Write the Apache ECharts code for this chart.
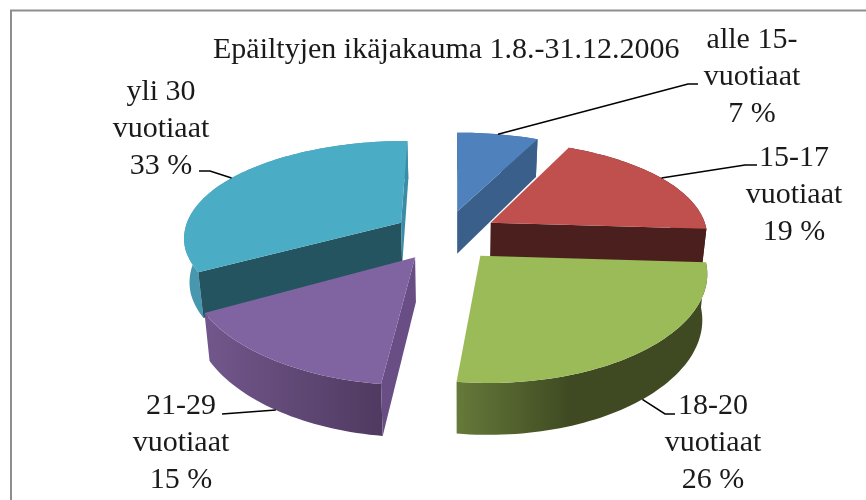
<!DOCTYPE html>
<html><head><meta charset="utf-8">
<style>html,body{margin:0;padding:0;background:#fff}#c{width:866px;height:500px}</style>
<script src="https://cdn.jsdelivr.net/npm/echarts@6/dist/echarts.min.js"></script>
</head><body><div id="c"></div>
<script>
const titleText = 'Epäiltyjen ikäjakauma 1.8.-31.12.2006';
const categories = ['alle 15-\nvuotiaat', '15-17\nvuotiaat', '18-20\nvuotiaat', '21-29\nvuotiaat', 'yli 30\nvuotiaat'];
const values = [7, 19, 26, 15, 33];

// Presentation only
const FONT = '"Liberation Serif", serif';
const INK = '#1a1a1a';
const P = {vx:456, y0:250, H:618, Dy:1321, Dx:1650, R:222, Xc:-10.5, Yc:-32, ex:54, ey:57, h:44.5, taper:0.02, shear:0.022};
const look = [
 {paint:0, top:'#4f81bd', wall:'#3f6796', start:'#3a5f8b', end:'#3a5f8b', anchorZ:0, elbow:[[688,84],[698,84]], label:[752,77]},
 {paint:2, top:'#bf504d', wall:'#4a1f1e', start:'#4a1f1e', end:'#4a1f1e', anchorZ:0, elbow:[[745,165],[757,165]], label:[794,195]},
 {paint:4, top:'#9bbb59', wall:[{offset:0,color:'#667a3a'},{offset:0.45,color:'#3f4a22'},{offset:1,color:'#3f4a22'}], start:'#3f4a22', end:'#3f4a22', anchorZ:1, elbow:[[665,414],[675,414]], label:[713,443]},
 {paint:3, top:'#8064a2', wall:[{offset:0,color:'#72578c'},{offset:1,color:'#4f3a60'}], start:'#684e85', end:'#684e85', anchorZ:1, elbow:[[222,414]], label:[181,443]},
 {paint:1, top:'#4bacc6', wall:'#4797ae', start:'#24545f', end:'#3d8ca5', anchorZ:0, elbow:[[210,171],[199,171]], label:[161,129]}
];

function project(X, Y, Z) {
  const sy = P.Dy / (P.Dy - Y), sx = P.Dx / (P.Dx - Y);
  return [P.vx + X * sx * (1 - P.taper * Z) + P.shear * Math.max(0, Y), P.y0 + P.H * (sy - 1) + Z * P.h * sx];
}
function rimXY(i, deg) {
  const a = deg * Math.PI / 180;
  return [i.ax + P.R * Math.sin(a), i.ay - P.R * Math.cos(a)];
}
const total = values.reduce((a, b) => a + b, 0);
let running = 0;
const rows = values.map((v, i) => { const r = [running, v, i]; running += v; return r; });

function renderItem(params, api) {
  const startPct = api.value(0), val = api.value(1), idx = api.value(2);
  const a0 = startPct / total * 360, a1 = (startPct + val) / total * 360, mid = (a0 + a1) / 2;
  const m = mid * Math.PI / 180;
  const L = look[idx];
  const i = {ax: P.Xc + P.ex * Math.sin(m), ay: P.Yc - P.ey * Math.cos(m)};
  const arc = Z => { const pts = []; const n = Math.max(8, Math.ceil((a1 - a0) / 1.5));
    for (let k = 0; k <= n; k++) { const [X, Y] = rimXY(i, a0 + (a1 - a0) * k / n); pts.push(project(X, Y, Z)); } return pts; };
  const topArc = arc(0), botArc = arc(1);
  const apexT = project(i.ax, i.ay, 0), apexB = project(i.ax, i.ay, 1);
  const base = L.paint * 10;
  const fillOf = f => Array.isArray(f) ? new echarts.graphic.LinearGradient(0, 0, 1, 0, f) : f;
  const poly = (points, fill, z) => ({type:'polygon', z2: base + z, shape:{points}, style:{fill: fillOf(fill), stroke:'none'}, silent:true});
  const turn = (a, b, c) => (b[0]-a[0])*(c[1]-b[1]) - (b[1]-a[1])*(c[0]-b[0]);
  const t0 = topArc[0], b0 = botArc[0], t1 = topArc[topArc.length-1], b1 = botArc[botArc.length-1];
  const kids = [poly(topArc.concat(botArc.slice().reverse()), L.wall, 1)];
  if (turn(apexT, t0, b0) < 0) kids.push(poly([apexT, t0, b0, apexB], L.start, 2));
  if (turn(apexT, t1, b1) > 0) kids.push(poly([apexT, t1, b1, apexB], L.end, 3));
  kids.push(poly([apexT].concat(topArc), L.top, 4));
  const [mx, my] = rimXY(i, mid);
  const anchor = project(mx, my, L.anchorZ);
  kids.push({type:'polyline', z2: 100, shape:{points:[anchor].concat(L.elbow)}, style:{fill:'none', stroke:'#000', lineWidth:1.5}, silent:true});
  kids.push({type:'text', z2: 101, silent:true, style:{
    text: categories[idx] + '\n' + values[idx] + ' %', x:L.label[0], y:L.label[1], fill:INK,
    font:'30px ' + FONT, lineHeight:37, align:'center', verticalAlign:'middle'}});
  return {type:'group', children:kids};
}

const chart = echarts.init(document.getElementById('c'), null, {renderer:'canvas'});
chart.setOption({
  animation:false,
  backgroundColor:'#ffffff',
  title:{text:titleText, left:213, top:35, padding:0, textStyle:{fontFamily:FONT, fontSize:30, fontWeight:'normal', color:INK}},
  graphic:[{type:'polyline', silent:true, z:-1, shape:{points:[[11,500],[11,10.5],[866,10.5]]}, style:{fill:'none', stroke:'#8e8e8e', lineWidth:2}}],
  series:[{type:'custom', coordinateSystem:'none', clip:false, renderItem, data:rows}]
});
</script></body></html>
